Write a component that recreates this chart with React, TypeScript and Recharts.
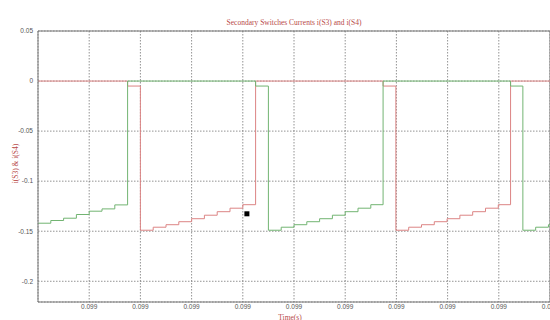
import React from 'react';
import { LineChart, Line, XAxis, YAxis, CartesianGrid, ReferenceLine, ReferenceDot } from 'recharts';

// switching instants (s) and current levels
const redTime = [
  0.099, 0.0990175, 0.09902, 0.0990225, 0.099025, 0.0990275, 0.09903, 0.0990325, 0.099035, 0.0990375,
  0.09904, 0.0990425, 0.0990674, 0.0990699, 0.0990724, 0.0990749, 0.0990774, 0.0990799, 0.0990824,
  0.0990849, 0.0990874, 0.0990899, 0.0990923, 0.0991,
];
const redCurrent = [
  0, -0.005, -0.149, -0.146, -0.1435, -0.1405, -0.1375, -0.134, -0.1305, -0.127, -0.1235, 0, -0.005,
  -0.149, -0.146, -0.1435, -0.1405, -0.1375, -0.134, -0.1305, -0.127, -0.1235, 0, 0,
];

const greenTime = [
  0.099, 0.0990025, 0.099005, 0.0990075, 0.09901, 0.0990125, 0.099015, 0.0990175, 0.0990425, 0.099045,
  0.0990475, 0.09905, 0.0990525, 0.099055, 0.0990575, 0.09906, 0.0990625, 0.099065, 0.0990674,
  0.0990923, 0.0990947, 0.0990972, 0.0990997, 0.0991,
];
const greenCurrent = [
  -0.142, -0.1393, -0.137, -0.1333, -0.13, -0.1277, -0.1237, 0, -0.005, -0.149, -0.146, -0.1435,
  -0.1405, -0.1375, -0.134, -0.1305, -0.127, -0.1235, 0, -0.005, -0.149, -0.146, -0.1435, -0.1435,
];

const xTicks = [0.09901, 0.09902, 0.09903, 0.09904, 0.09905, 0.09906, 0.09907, 0.09908, 0.09909, 0.0991];
const yTicks = [-0.2, -0.15, -0.1, -0.05, 0, 0.05];

// stray cursor marker on the original plot
const marker = { t: 0.0990408, i: -0.1326 };

const redData = redTime.map((t, k) => ({ t, i: redCurrent[k] }));
const greenData = greenTime.map((t, k) => ({ t, i: greenCurrent[k] }));

const RED = '#dc8484';
const GREEN = '#72b472';
const TITLE = '#b84a48';
const tickStyle = { fontSize: 6.5, fill: '#555', fontFamily: 'Liberation Sans, Arial, sans-serif' };

const YTitle = (props: any) => {
  const vb = props.viewBox || { x: 0, y: 31, width: 38, height: 271 };
  const x = vb.x + 15;
  const y = vb.y + vb.height / 2 - 3;
  return (
    <text x={x} y={y} transform={`rotate(-90 ${x} ${y})`} textAnchor="middle" dominantBaseline="central"
      fontSize={7.5} fill={TITLE} fontFamily="Liberation Serif, serif">
      i(S3) &amp; i(S4)
    </text>
  );
};

const XTitle = (props: any) => {
  const vb = props.viewBox || { x: 38, y: 302, width: 512, height: 18 };
  return (
    <text x={vb.x + vb.width / 2 - 4} y={vb.y + 15} textAnchor="middle" dominantBaseline="central"
      fontSize={7.5} fill={TITLE} fontFamily="Liberation Serif, serif">
      Time(s)
    </text>
  );
};

const Square = (props: any) => (
  <rect x={props.cx - 2.5} y={props.cy - 2.5} width={5} height={5} fill="#000" />
);

export default function App() {
  return (
    <div style={{ position: 'absolute', left: 0, top: 0, width: 550, height: 320, background: '#fff', overflow: 'hidden' }}>
      <div style={{
        position: 'absolute', left: 38, top: 18, width: 512, textAlign: 'center', fontSize: 7.5,
        lineHeight: '10px', color: TITLE, fontFamily: 'Liberation Serif, serif',
      }}>
        Secondary Switches Currents i(S3) and i(S4)
      </div>
      <LineChart width={550} height={320} margin={{ top: 31, right: 0, bottom: 0, left: 0 }}>
        <CartesianGrid stroke="#777" strokeDasharray="1.5 1.5" strokeWidth={0.8} />
        <XAxis
          dataKey="t"
          type="number"
          domain={[0.099, 0.0991]}
          ticks={xTicks}
          interval={0}
          allowDataOverflow
          height={18}
          tickLine={false}
          tickSize={2}
          tickMargin={0}
          axisLine={{ stroke: '#777' }}
          tick={tickStyle}
          tickFormatter={(v: number) => v.toFixed(3)}
          label={<XTitle />}
        />
        <YAxis
          type="number"
          domain={[-0.2207, 0.05]}
          ticks={yTicks}
          interval={0}
          allowDataOverflow
          width={38}
          tickLine={false}
          tickSize={3}
          tickMargin={2}
          axisLine={{ stroke: '#777' }}
          tick={tickStyle}
          tickFormatter={(v: number) => String(v)}
          label={<YTitle />}
        />
        <ReferenceLine y={0.05} stroke="#777" />
        <ReferenceLine x={0.0991} stroke="#777" />
        <Line data={redData} dataKey="i" type="stepAfter" stroke={RED} strokeWidth={1} dot={false} isAnimationActive={false} />
        <Line data={greenData} dataKey="i" type="stepAfter" stroke={GREEN} strokeWidth={1} dot={false} isAnimationActive={false} />
        <ReferenceDot x={marker.t} y={marker.i} shape={<Square />} />
      </LineChart>
    </div>
  );
}
